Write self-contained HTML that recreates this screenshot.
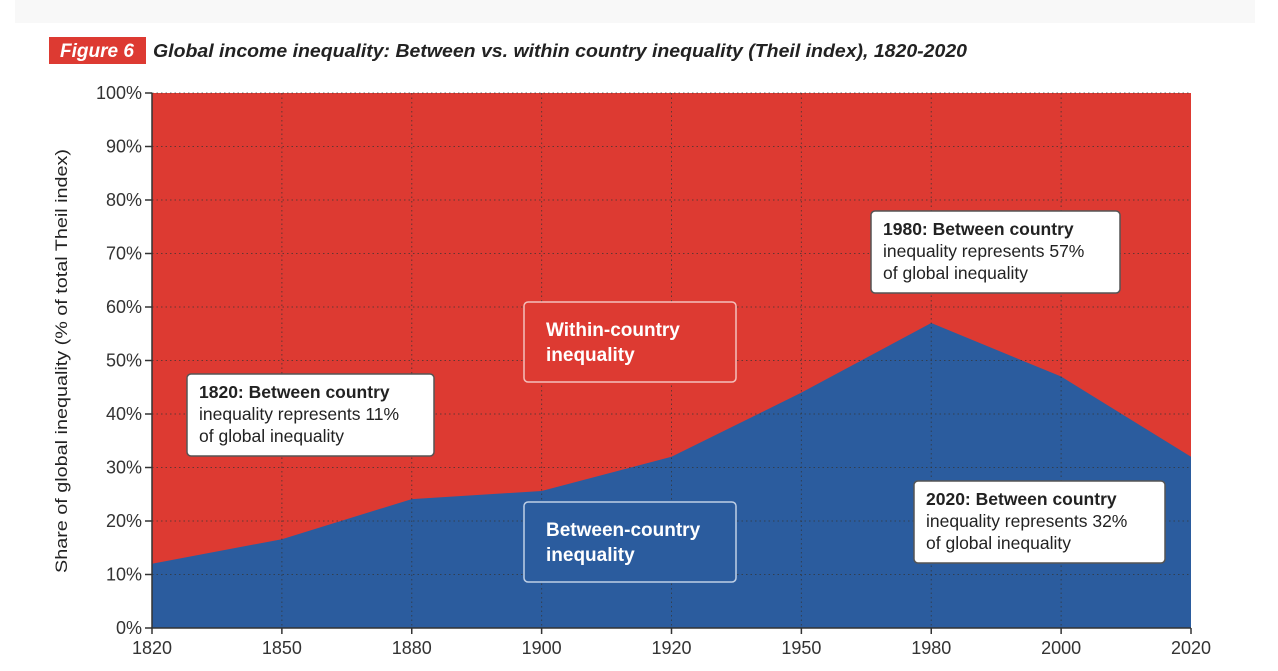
<!DOCTYPE html>
<html><head><meta charset="utf-8"><style>
body{margin:0;background:#fff;width:1278px;height:666px;overflow:hidden;font-family:"Liberation Sans",sans-serif;}
</style></head><body>
<svg width="1278" height="666" xmlns="http://www.w3.org/2000/svg">
<rect x="15" y="0" width="1240" height="23" fill="#f8f8f8"/>
<rect x="49" y="37" width="97" height="27" fill="#dd3a32"/>
<text x="97" y="57" fill="#fff" font-size="19" font-weight="bold" font-style="italic" text-anchor="middle">Figure 6</text>
<text x="153" y="57" fill="#222" font-size="18" font-weight="bold" font-style="italic" textLength="814" lengthAdjust="spacingAndGlyphs">Global income inequality: Between vs. within country inequality (Theil index), 1820-2020</text>
<g id="plot"></g>
<text transform="translate(67,361) rotate(-90)" font-size="17" fill="#222" text-anchor="middle" textLength="424" lengthAdjust="spacingAndGlyphs">Share of global inequality (% of total Theil index)</text>
</svg>
<script>
const years=["1820","1850","1880","1900","1920","1950","1980","2000","2020"];
const between=[12,16.6,24.1,25.6,32,44,57,47,32];
const yTicks=[0,10,20,30,40,50,60,70,80,90,100];
const NS="http://www.w3.org/2000/svg";
const X0=152,X1=1191,Y0=628,Y1=93;
function xs(i){return X0+(X1-X0)*i/(years.length-1);}
function ys(v){return Y0-(Y0-Y1)*v/100;}
const g=document.getElementById('plot');
function mk(t,a,p){const e=document.createElementNS(NS,t);for(const k in a)e.setAttribute(k,a[k]);(p||g).appendChild(e);return e;}
let r=mk('rect',{x:X0,y:Y1,width:X1-X0,height:Y0-Y1,fill:'#dd3a32'});


let d='M'+xs(0)+','+Y0;
between.forEach((v,i)=>{d+=' L'+xs(i)+','+ys(v);});
d+=' L'+xs(between.length-1)+','+Y0+' Z';
let a=mk('path',{d:d,fill:'#2b5c9e'});


yTicks.forEach(t=>{
  const y=ys(t);
  if(t>0){let l=mk('line',{x1:X0,x2:X1,y1:y,y2:y,stroke:'#333','stroke-width':1,'stroke-dasharray':'1.5,3',opacity:0.7});
  
  }
  let tk=mk('line',{x1:X0-7,x2:X0,y1:y,y2:y,stroke:'#333','stroke-width':1.5});
  
  
  let tx=mk('text',{x:X0-10,y:y+6,'font-size':18,fill:'#333','text-anchor':'end'});
  tx.textContent=t+'%';
  
  
});
years.forEach((yr,i)=>{
  const x=xs(i);
  if(i>0&&i<years.length-1){let l=mk('line',{x1:x,x2:x,y1:Y1,y2:Y0,stroke:'#333','stroke-width':1,'stroke-dasharray':'1.5,3',opacity:0.7});
  
  }
  let tk=mk('line',{x1:x,x2:x,y1:Y0,y2:Y0+6,stroke:'#333','stroke-width':1.5});
  
  
  let tx=mk('text',{x:x,y:Y0+26,'font-size':18,fill:'#333','text-anchor':'middle'});
  tx.textContent=yr;
  
  
});
let ax=mk('path',{d:`M${X0},${Y1} L${X0},${Y0} L${X1},${Y0}`,fill:'none',stroke:'#333','stroke-width':1.5});


function box(x,y,w,h,lines,name,fill,stroke,col,first){
  let rb=mk('rect',{x:x,y:y,width:w,height:h,rx:4,fill:fill,stroke:stroke,'stroke-width':1.5});
  
  
  lines.forEach((s,k)=>{let t=mk('text',{x:x+(first?12:22),y:y+(first?24:34)+k*(first?22:25),'font-size':first?17.5:19,fill:col,'font-weight':(!first||k==0)?'bold':'normal'});
  t.textContent=s;
  
  });
}
box(187,374,247,82,['1820: Between country','inequality represents 11%','of global inequality'],'annotation-1820','#fff','#555','#222',true);
box(871,211,249,82,['1980: Between country','inequality represents 57%','of global inequality'],'annotation-1980','#fff','#555','#222',true);
box(914,481,251,82,['2020: Between country','inequality represents 32%','of global inequality'],'annotation-2020','#fff','#555','#222',true);
box(524,302,212,80,['Within-country','inequality'],'label-within','#dd3a32','#f3c0bc','#fff',false);
box(524,502,212,80,['Between-country','inequality'],'label-between','#2b5c9e','#c0d0e6','#fff',false);
</script>
</body></html>
